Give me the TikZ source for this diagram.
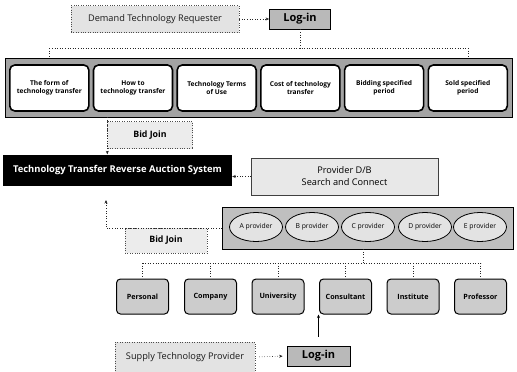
\documentclass[tikz,border=0pt]{standalone}
\usepackage{fontspec}
\setmainfont{Open Sans}
\usetikzlibrary{arrows.meta,shapes.geometric}
\begin{document}
\begin{tikzpicture}[x=1pt,y=-1pt,
  lightbox/.style={draw=gray!60!black,dotted,fill=gray!22,inner sep=0pt,align=center,text=black!90},
  loginbox/.style={draw=black,line width=0.8pt,fill=gray!55,inner sep=0pt,minimum width=61pt,minimum height=20pt,font=\fontsize{11}{12}\selectfont\bfseries},
  termbox/.style={draw=black,line width=1.6pt,fill=white,rounded corners=5pt,inner sep=0pt,minimum width=79pt,minimum height=46pt,align=center,font=\fontsize{6.6}{8.5}\selectfont\bfseries},
  provoval/.style={ellipse,draw=black,line width=0.8pt,fill=gray!22,inner sep=0pt,minimum width=53pt,minimum height=29pt,font=\fontsize{6.8}{7}\selectfont},
  rolebox/.style={draw=black,line width=1pt,fill=gray!40,rounded corners=4pt,inner sep=0pt,minimum width=52pt,minimum height=35pt,font=\fontsize{7.2}{8}\selectfont\bfseries},
  bidbox/.style={draw=gray!60!black,dotted,fill=gray!15,inner sep=0pt,font=\fontsize{8.8}{10}\selectfont\bfseries},
  conn/.style={dotted,line width=0.6pt,draw=gray!30!black},
  tip/.style={-{Stealth[length=3.5pt,width=3pt]}}
]
\useasboundingbox (0,0) rectangle (517,372);
% top
\node[lightbox,minimum width=168pt,minimum height=27pt,font=\fontsize{9.2}{10}\selectfont] (dem) at (155,19) {Demand Technology Requester};
\node[loginbox] (login1) at (300,19) {Log-in};
\draw[conn,tip] (dem.east) -- (login1.west);
% bar
\node[draw=black,fill=gray!72,minimum width=507pt,minimum height=59pt,inner sep=0pt] (bar) at (258.5,87.5) {};
\foreach \i/\t [count=\k from 0] in {t1/{The form of\\technology transfer},t2/{How to\\technology transfer},t3/{Technology Terms\\of Use},t4/{Cost of technology\\transfer},t5/{Bidding specified\\period},t6/{Sold specified\\period}}
  \node[termbox] (\i) at ({49.3+83.7*\k},88) {\t};
\coordinate (j1) at (300,48);
\draw[conn] (login1.south) -- (j1);
\draw[conn] (j1 -| t1) -- (j1 -| t6);
\draw[conn] (j1 -| t1) -- (bar.north -| t1);
\draw[conn] (j1 -| t6) -- (bar.north -| t6);
% bid join 1
\node[bidbox,minimum width=85pt,minimum height=27pt] (bj1) at (150,135) {Bid Join};
% system
\node[fill=black,text=white,minimum width=229pt,minimum height=31pt,inner sep=0pt,font=\fontsize{9.4}{10}\selectfont\bfseries] (tt) at (117.5,170) {Technology Transfer Reverse Auction System};
\draw[conn,tip] (bar.south -| bj1.west) -- (tt.north -| bj1.west);
% provider
\node[draw=gray!50!black,fill=gray!18,minimum width=187pt,minimum height=37pt,inner sep=0pt,align=center,font=\fontsize{9.2}{12}\selectfont] (prov) at (344.5,176.5) {Provider D/B\\Search and Connect};
\draw[conn,tip] (prov.west) -- (prov.west -| tt.east);
% ovals bar
\node[draw=black,fill=gray!50,minimum width=291pt,minimum height=42pt,inner sep=0pt] (ob) at (367.5,228) {};
\node[provoval] (pa) at (256,227) {A provider};
\node[provoval] (pb) at (312,227) {B provider};
\node[provoval] (pc) at (368,227) {C provider};
\node[provoval] (pd) at (425,227) {D provider};
\node[provoval] (pe) at (480,227) {E provider};
% bid join 2
\node[bidbox,minimum width=82pt,minimum height=25pt] (bj2) at (166,240.5) {Bid Join};
\coordinate (bjtip) at (106,200);
\draw[conn,tip] (ob.west) -| (bjtip);
% roles
\foreach \n/\x/\t in {r1/142.5/Personal,r2/210.5/Company,r3/278/University,r4/345.5/Consultant,r5/413/Institute,r6/480.5/Professor}
  \node[rolebox] (\n) at (\x,296.5) {\t};
\coordinate (j2) at (363,263);
\draw[conn] (ob.south -| j2) -- (j2);
\draw[conn] (j2 -| r1) -- (j2 -| r6);
\foreach \n in {r1,r2,r3,r4,r5,r6}
  \draw[conn] (j2 -| \n) -- (\n.north);
% supply
\node[lightbox,minimum width=140pt,minimum height=30pt,font=\fontsize{9.2}{10}\selectfont] (sup) at (185,357) {Supply Technology Provider};
\node[loginbox,minimum width=63pt] (login2) at (318.5,356) {Log-in};
\draw[conn,tip,shorten <=4pt,shorten >=4pt] (sup.east) -- (login2.west);
\draw[line width=0.7pt,tip,shorten <=9pt] (login2.north) -- (login2.north |- r4.south);
\end{tikzpicture}
\end{document}
